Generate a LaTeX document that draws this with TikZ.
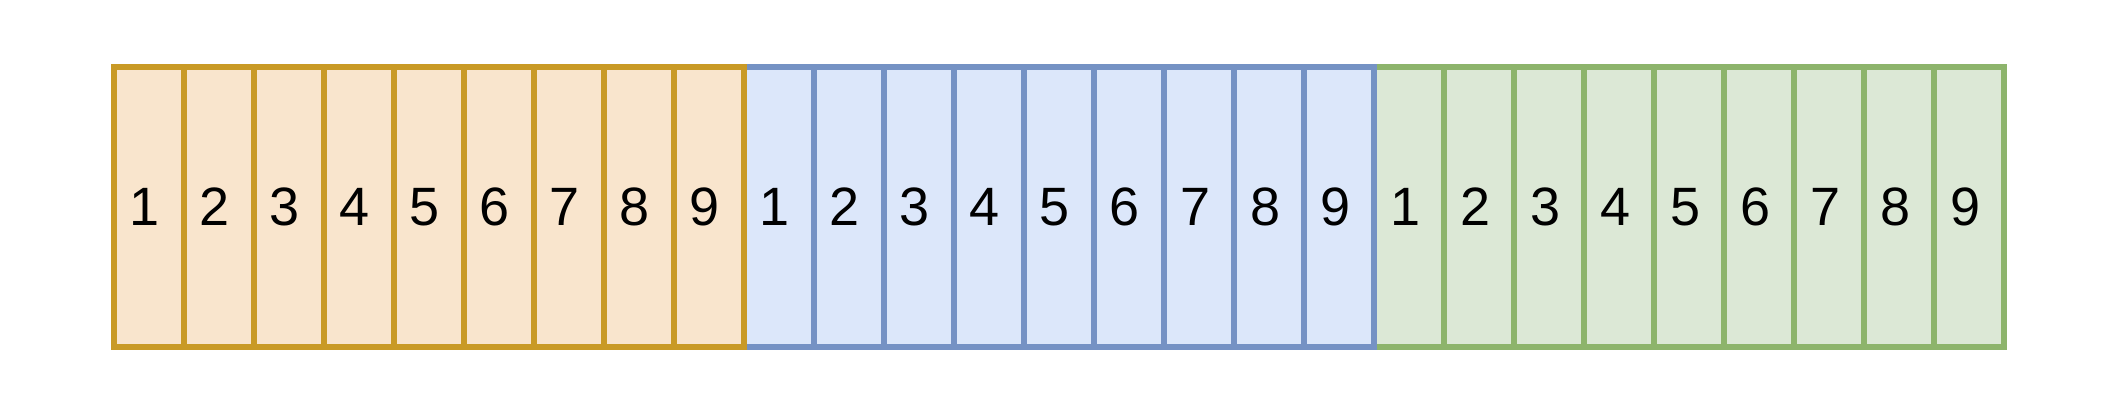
\documentclass[tikz,border=0pt]{standalone}
\usepackage{fontspec}
\setmainfont{Liberation Sans}
\usetikzlibrary{calc}
\definecolor{ofill}{HTML}{F9E5CD}
\definecolor{odraw}{HTML}{C99A26}
\definecolor{bfill}{HTML}{DCE7FA}
\definecolor{bdraw}{HTML}{7592C4}
\definecolor{gfill}{HTML}{DCE8D6}
\definecolor{gdraw}{HTML}{8DB46C}
\tikzset{
  cell/.style={rectangle, minimum width=70pt, minimum height=280pt, line width=6.5pt, inner sep=0pt, outer sep=0pt},
  ocell/.style={cell, fill=ofill, draw=odraw},
  bcell/.style={cell, fill=bfill, draw=bdraw},
  gcell/.style={cell, fill=gfill, draw=gdraw},
  num/.style={font=\fontsize{54pt}{60pt}\selectfont, inner sep=0pt}
}
\begin{document}
\begin{tikzpicture}[x=1pt,y=-1pt]
\useasboundingbox (0,0) rectangle (2111,420);
\foreach \i in {9,...,1} {
  \node[gcell] (g\i) at ({114+1260+70*(\i-1)+35},207) {};
}
\foreach \i in {1,...,9} {
  \node[num] (gt\i) at ($(g\i.center)+(-4,0)$) {\i};
}
\foreach \i in {9,...,1} {
  \node[bcell] (b\i) at ({114+630+70*(\i-1)+35},207) {};
}
\foreach \i in {1,...,9} {
  \node[num] (bt\i) at ($(b\i.center)+(-4,0)$) {\i};
}
\foreach \i in {9,...,1} {
  \node[ocell] (o\i) at ({114+70*(\i-1)+35},207) {};
}
\foreach \i in {1,...,9} {
  \node[num] (ot\i) at ($(o\i.center)+(-4,0)$) {\i};
}
\end{tikzpicture}
\end{document}
